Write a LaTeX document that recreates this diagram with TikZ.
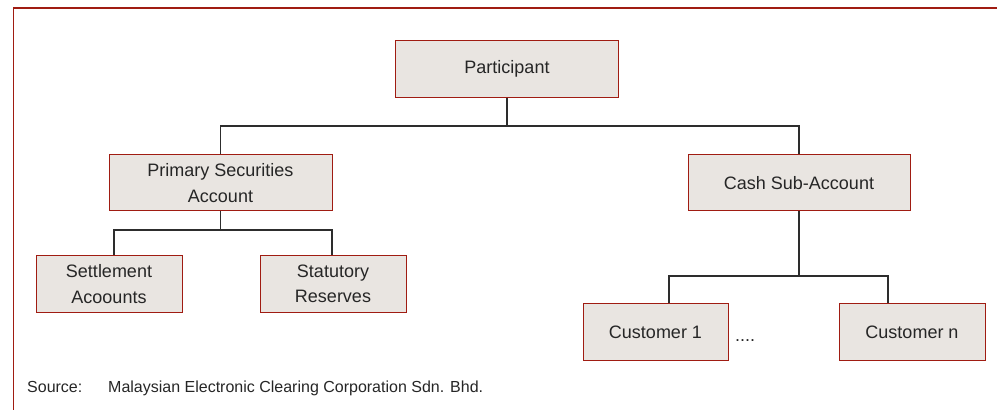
\documentclass[tikz,border=0pt]{standalone}
\usepackage{fontspec}
\setmainfont{Liberation Sans}
\usetikzlibrary{
    calc,
    positioning
}
\definecolor{ink}{RGB}{38,38,38}
\definecolor{framered}{RGB}{160,28,18}
\definecolor{boxfill}{RGB}{233,229,225}
\definecolor{linkgray}{RGB}{45,45,45}
\tikzset{
    line join=miter,
    account/.style={
        rectangle,
        draw=framered,
        line width=1pt,
        fill=boxfill,
        text=ink,
        minimum width=223pt,
        minimum height=56pt,
        inner sep=0pt,
        align=center,
        font=\fontsize{18}{25.5}\selectfont
    },
    subaccount/.style={
        account,
        minimum width=146pt,
        minimum height=57pt
    },
    link/.style={
        draw=linkgray,
        line width=1.1pt
    },
    frameline/.style={
        draw=framered,
        line width=1.4pt
    },
    note/.style={
        font=\fontsize{16}{19}\selectfont,
        text=ink,
        inner sep=0pt
    },
    ellipsis/.style={
        note,
        font=\fontsize{18}{20}\selectfont
    }
}

\begin{document}
\begin{tikzpicture}[x=1pt, y=1pt]

\useasboundingbox (0,0) rectangle (997,410);
\draw[frameline] (13.5,0) |- (997,402);

% top level
\node[account, minimum height=57pt] (part) at (507,341.3) {Participant};

% second level
\node[account] (psa) at (220.5,227) {Primary Securities\\Account};
\node[account, minimum width=222pt] (cash) at (799,227) {Cash Sub-Account};

% third level
\node[subaccount] (settle) at (109,126) {Settlement\\Acoounts};
\node[subaccount] (statres) at (333,126) {Statutory\\Reserves};
\node[subaccount, minimum width=145pt] (cust1) at (655.5,77.5) {Customer 1};
\node[subaccount] (custn) at (912,77.5) {Customer n};
\node[ellipsis, anchor=base west] (dots) at (735,68) {....};

% connectors
\coordinate (topbus) at (507,284);
\coordinate (psabus) at (220.5,180);
\coordinate (cashbus) at (799,134);
\coordinate (settledrop) at ([xshift=5pt]settle.north);
\coordinate (statdrop) at ([xshift=-1pt]statres.north);
\coordinate (cust1drop) at ([xshift=13.5pt]cust1.north);
\coordinate (custndrop) at ([xshift=-24pt]custn.north);

\draw[link] (part.south) -- (topbus);
\draw[link] (psa.north) |- (topbus) -| (cash.north);
\draw[link] (psa.south) -- (psabus);
\draw[link] (settledrop) |- (psabus) -| (statdrop);
\draw[link] (cash.south) -- (cashbus);
\draw[link] (cust1drop) |- (cashbus) -| (custndrop);

% source line
\node[note, anchor=base west] (srclabel) at (27,17.3) {Source:};
\node[note, anchor=base west] (srcname) at (108,17.3) {Malaysian Electronic Clearing Corporation Sdn. Bhd.};

\end{tikzpicture}
\end{document}
